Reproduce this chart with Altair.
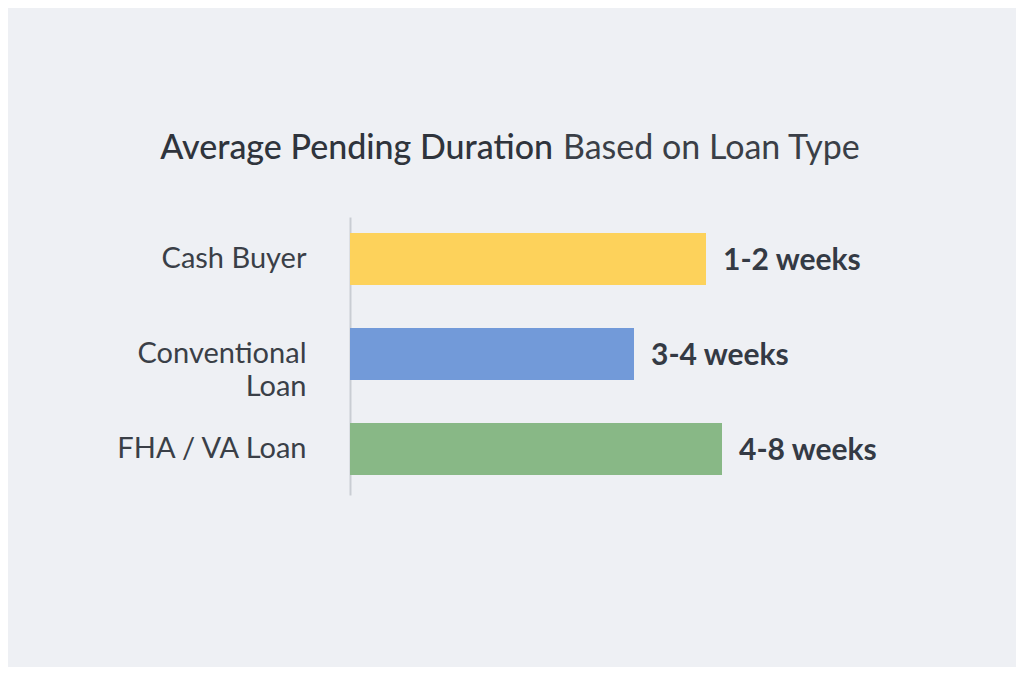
import altair as alt
import pandas as pd

categories = ["Cash Buyer", "Conventional|Loan", "FHA / VA Loan"]
bar_lengths = [8.9, 7.1, 9.3]  # relative bar length as drawn
value_labels = ["1-2 weeks", "3-4 weeks", "4-8 weeks"]
colors = ["#FDD25B", "#729AD9", "#88B886"]

df = pd.DataFrame({
    "category": categories,
    "length": bar_lengths,
    "label": value_labels,
    "color": colors,
})

BG = "#EEF0F4"
TXT = "#343A44"
FONT = "Lato"

y_scale = alt.Scale(paddingInner=0.45, paddingOuter=0.188, align=0.445)

y_enc = alt.Y(
    "category:N",
    sort=categories,
    scale=y_scale,
    axis=alt.Axis(
        title=None,
        ticks=False,
        grid=False,
        domain=True,
        domainColor="#C9CDD3",
        domainWidth=2,
        labelFont=FONT,
        labelFontSize=29,
        labelColor="#3A3F47",
        labelPadding=44,
        labelLineHeight=33,
        labelExpr="split(datum.value, '|')",
        labelLimit=300,
    ),
)

x_enc = alt.X(
    "length:Q",
    scale=alt.Scale(domain=[0, 10]),
    axis=None,
)

bars = alt.Chart(df).mark_bar(size=52).encode(
    x=x_enc,
    y=y_enc,
    color=alt.Color("color:N", scale=None),
)

text = alt.Chart(df).mark_text(
    align="left", baseline="middle", dx=17, dy=2,
    font=FONT, fontSize=30, fontWeight="bold", color=TXT,
).encode(
    x=x_enc,
    y=alt.Y("category:N", sort=categories, scale=y_scale),
    text="label:N",
)

title_df = pd.DataFrame({"part": ["Average Pending Duration", "Based on Loan Type"]})

title1 = alt.Chart(title_df.iloc[[0]]).mark_text(
    align="right", baseline="alphabetic", font=FONT, fontSize=34,
    fontWeight=500, color="#2F343C",
).encode(x=alt.value(203), y=alt.value(-58), text="part:N")

title2 = alt.Chart(title_df.iloc[[1]]).mark_text(
    align="left", baseline="alphabetic", font=FONT, fontSize=34,
    fontWeight="normal", color="#3A3F47",
).encode(x=alt.value(213), y=alt.value(-58), text="part:N")

chart = alt.layer(bars, text, title1, title2).properties(
    width=400,
    height=278,
    background=BG,
    padding={"left": 342, "top": 209, "right": 266, "bottom": 172},
    autosize=alt.AutoSizeParams(type="none"),
).configure_view(stroke=None)

chart.save("out.html", embed_options={"renderer": "svg", "actions": False})
